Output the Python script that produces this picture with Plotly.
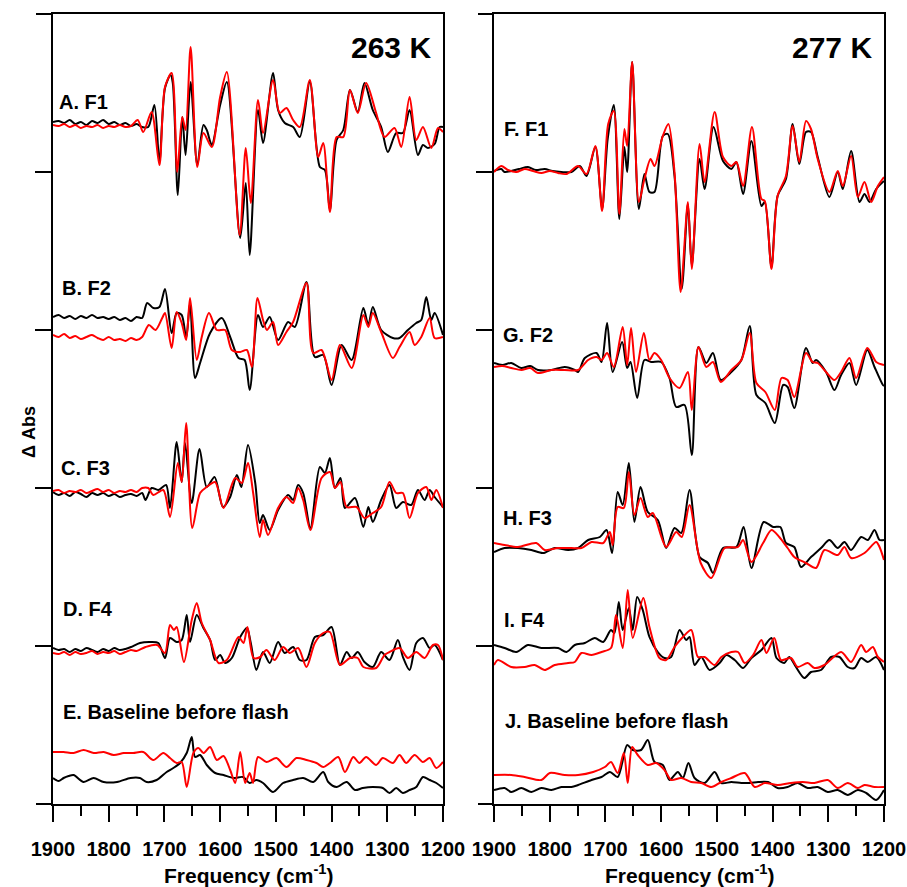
import plotly.graph_objects as go

# ---------------- data (frequency in cm-1, dAbs in arbitrary units relative to each trace's zero tick) ----------------
# 263 K panel
A_black_cm = [1900,1890,1880,1870,1860,1850,1840,1830,1820,1810,1800,1790,1780,1770,1760,1750,1740,1729,1718,1709,1699,1689,1685,1676,1668,1662,1653,1641,1630,1624,1615,1600,1588,1564,1554,1547,1532,1523,1505,1496,1484,1469,1457,1439,1421,1412,1403,1391,1379,1367,1353,1341,1326,1311,1299,1284,1272,1260,1245,1236,1227,1215,1206,1200]
A_black_dA = [50,51,49,52,48,50,47,51,49,52,48,50,47,49,46,48,45,45,67,10,84,97,89,-23,55,17,90,7,47,42,27,67,90,-66,-11,-83,62,29,99,62,49,45,35,90,5,2,-38,32,42,82,60,89,62,45,20,39,39,62,17,27,24,28,45,45]
A_red_cm = [1900,1890,1880,1870,1860,1850,1840,1830,1820,1810,1800,1790,1780,1770,1760,1748,1738,1723,1709,1699,1687,1677,1668,1662,1653,1641,1630,1615,1600,1588,1565,1554,1545,1532,1523,1505,1493,1481,1469,1457,1439,1424,1415,1403,1391,1379,1367,1353,1338,1320,1305,1287,1275,1260,1248,1236,1221,1209,1200]
A_red_dA = [47,46,48,45,47,44,46,45,47,44,46,45,47,45,46,52,40,60,7,85,99,0,55,42,125,5,39,25,75,100,-63,24,-31,72,39,92,59,64,52,45,92,15,29,-40,35,35,82,59,89,59,35,44,25,75,32,45,24,44,40]

B_black_cm = [1900,1890,1880,1870,1860,1850,1840,1830,1820,1810,1800,1790,1780,1770,1760,1750,1740,1731,1720,1709,1699,1687,1678,1669,1661,1654,1645,1636,1618,1597,1582,1567,1556,1547,1532,1523,1511,1496,1478,1466,1445,1430,1415,1400,1382,1364,1343,1334,1326,1311,1290,1278,1263,1248,1239,1230,1221,1215,1200]
B_black_dA = [13,15,12,14,11,14,12,15,12,13,11,13,10,12,9,13,12,27,22,23,41,-3,17,15,-8,27,-48,-33,-3,12,-7,-28,-30,-60,15,3,13,-10,8,3,48,-27,-25,-55,-15,-30,22,5,23,0,-8,-8,0,7,10,33,10,17,-5]
B_red_cm = [1900,1890,1880,1870,1860,1850,1840,1830,1820,1810,1800,1790,1780,1770,1760,1750,1740,1728,1716,1704,1699,1687,1678,1669,1661,1654,1642,1633,1620,1606,1591,1579,1564,1552,1543,1533,1523,1516,1505,1496,1481,1469,1445,1433,1418,1400,1385,1364,1343,1334,1326,1311,1290,1278,1260,1251,1239,1224,1215,1200]
B_red_dA = [-5,-7,-4,-8,-6,-9,-7,-5,-8,-10,-7,-10,-9,-11,-8,-10,-7,5,0,12,17,-18,18,7,-10,32,-30,-7,17,0,0,-20,-22,-20,-37,32,10,0,8,-15,-2,8,47,-23,-20,-50,-15,-38,15,3,17,-2,-28,-17,-2,-15,-7,12,-8,-7]

C_black_cm = [1900,1890,1880,1870,1860,1850,1840,1830,1820,1810,1800,1790,1780,1770,1760,1750,1740,1734,1723,1711,1697,1690,1678,1669,1663,1651,1637,1624,1610,1595,1582,1570,1562,1550,1537,1529,1523,1511,1496,1478,1469,1460,1451,1438,1421,1412,1403,1394,1384,1376,1358,1343,1334,1326,1311,1296,1284,1272,1257,1245,1233,1224,1215,1200]
C_black_dA = [-4,-7,-5,-8,-4,-6,-9,-5,-7,-5,-8,-6,-9,-7,-6,-8,-5,-12,0,-2,3,-20,46,6,45,-15,39,1,11,-19,-9,13,1,43,5,-35,-27,-42,-22,-7,-12,3,-5,-40,21,15,30,0,10,-20,-10,-39,-19,-34,-12,3,-20,-14,-17,-2,-12,-2,-9,-19]
C_red_cm = [1900,1890,1880,1870,1860,1850,1840,1830,1820,1810,1800,1790,1780,1770,1760,1750,1740,1729,1720,1702,1690,1676,1669,1661,1650,1636,1624,1609,1594,1573,1561,1550,1541,1529,1523,1514,1496,1481,1469,1460,1451,1438,1418,1403,1394,1384,1373,1355,1341,1326,1311,1296,1284,1272,1260,1245,1230,1221,1212,1200]
C_red_dA = [-3,-2,-5,-3,-4,-2,-5,-3,-1,-4,-2,-5,-3,-4,-2,-4,0,0,-7,-2,-29,25,6,65,-40,-5,1,6,-20,10,5,25,-4,-49,-32,-47,-20,-9,-15,0,-12,-42,10,16,0,6,-19,-19,-30,-25,-19,6,-5,-5,-30,-5,1,-12,-2,-20]

D_black_cm = [1900,1890,1880,1870,1860,1850,1840,1830,1820,1810,1800,1790,1780,1770,1760,1744,1726,1711,1699,1690,1678,1669,1660,1654,1642,1630,1618,1609,1600,1591,1579,1564,1552,1545,1535,1523,1511,1496,1484,1469,1457,1445,1430,1415,1400,1385,1373,1364,1353,1341,1326,1311,1296,1281,1272,1260,1248,1236,1224,1215,1200]
D_black_dA = [-2,-4,-3,-6,-3,-5,-2,-4,-6,-3,-5,-2,-4,-3,-1,3,4,3,-12,8,4,6,31,4,31,18,6,-14,-9,-17,-12,9,18,3,-24,-6,-17,4,-7,-1,-14,-14,9,11,19,-19,-6,-12,-6,-16,-21,-6,-14,6,-11,-24,3,8,-2,1,-14]
D_red_cm = [1900,1890,1880,1870,1860,1850,1840,1830,1820,1810,1800,1790,1780,1770,1760,1750,1734,1713,1699,1690,1683,1678,1665,1651,1642,1633,1618,1603,1588,1567,1558,1551,1540,1528,1517,1502,1487,1475,1460,1445,1430,1415,1403,1385,1367,1353,1343,1320,1305,1296,1278,1263,1248,1233,1218,1209,1200]
D_red_dA = [-7,-8,-6,-9,-6,-8,-7,-5,-8,-6,-7,-5,-8,-6,-4,-5,-1,1,-7,21,16,19,-16,26,43,23,6,-17,-14,9,3,19,-12,-11,-4,-14,-1,-7,-2,-21,3,13,14,-19,-12,-12,-21,-22,-9,-6,-2,-12,-6,-12,1,1,-14]

E_black_cm = [1900,1890,1881,1872,1863,1845,1827,1809,1785,1761,1744,1732,1714,1696,1684,1672,1660,1651,1645,1636,1624,1609,1594,1576,1559,1547,1535,1523,1505,1487,1469,1451,1433,1415,1406,1391,1373,1358,1344,1326,1308,1296,1284,1272,1260,1248,1236,1224,1212,1200]
E_black_dA = [26,23,26,28,29,22,26,22,22,26,26,22,24,32,36,41,51,67,47,49,39,31,29,26,27,21,24,21,12,21,24,26,22,32,22,17,22,14,16,17,16,11,16,11,14,17,27,24,21,16]
E_red_cm = [1900,1881,1863,1845,1827,1809,1791,1773,1756,1738,1720,1702,1690,1678,1669,1660,1648,1639,1630,1618,1606,1594,1582,1573,1564,1555,1547,1541,1532,1517,1499,1481,1463,1445,1427,1415,1403,1388,1376,1361,1350,1338,1320,1308,1290,1278,1266,1251,1236,1224,1212,1200]
E_red_dA = [52,52,51,54,51,52,49,51,51,52,44,51,46,41,42,17,51,56,51,57,44,48,34,21,52,21,31,21,47,42,46,37,46,44,41,37,41,47,32,47,41,47,39,46,41,49,41,49,42,46,36,42]

# 277 K panel
F_black_cm = [1900,1887,1881,1869,1855,1839,1825,1809,1795,1779,1761,1746,1734,1718,1706,1696,1685,1675,1666,1661,1652,1640,1630,1621,1612,1597,1588,1576,1563,1552,1545,1531,1522,1506,1489,1474,1465,1453,1438,1420,1414,1402,1391,1376,1364,1352,1340,1331,1319,1298,1283,1274,1259,1244,1235,1226,1214,1200]
F_black_dA = [1,3,0,1,3,5,2,3,1,0,0,6,-4,25,-37,33,67,-47,25,0,110,-37,-2,-20,-20,36,38,-4,-117,-32,-94,13,-17,45,11,3,10,-22,31,-34,-30,-95,-24,-7,48,8,40,40,15,-25,0,-17,21,-30,-22,-30,-17,-9]
F_red_cm = [1900,1887,1875,1860,1845,1830,1815,1800,1785,1770,1749,1734,1718,1706,1695,1685,1675,1666,1661,1652,1640,1630,1619,1612,1597,1587,1576,1565,1552,1545,1531,1522,1504,1489,1474,1465,1453,1437,1420,1414,1402,1391,1376,1364,1352,1340,1331,1319,1298,1283,1274,1259,1247,1235,1223,1211,1200]
F_red_dA = [0,6,2,0,3,1,-1,1,-1,-2,6,-2,26,-39,48,61,-42,43,26,110,-30,-7,13,6,36,48,0,-120,-30,-97,28,-10,60,15,6,10,-14,45,-27,-29,-97,-24,-4,46,10,51,43,13,-20,1,-14,16,-25,-10,-30,-14,-5]

G_black_cm = [1900,1885,1869,1851,1835,1821,1797,1773,1755,1749,1737,1716,1707,1697,1687,1670,1661,1655,1643,1630,1618,1600,1585,1573,1558,1545,1533,1519,1507,1493,1474,1456,1441,1429,1413,1396,1381,1373,1361,1340,1328,1322,1304,1289,1277,1262,1250,1230,1217,1202,1200]
G_black_dA = [-33,-35,-33,-38,-36,-40,-40,-37,-40,-42,-28,-23,-32,7,-42,-12,-38,-32,-68,-30,-32,-32,-48,-77,-75,-125,-17,-33,-23,-50,-42,-30,4,-65,-73,-93,-55,-57,-78,-18,-33,-30,-42,-60,-45,-33,-55,-20,-37,-55,-56]
G_red_cm = [1900,1885,1869,1851,1835,1821,1797,1773,1749,1731,1716,1707,1697,1685,1669,1661,1654,1645,1631,1621,1612,1600,1585,1567,1552,1545,1533,1519,1507,1493,1474,1456,1441,1429,1413,1396,1384,1373,1361,1340,1328,1319,1304,1289,1277,1262,1250,1230,1214,1200]
G_red_dA = [-37,-36,-38,-40,-38,-43,-40,-40,-40,-30,-27,-30,-23,-37,3,-35,2,-42,-3,-30,-23,-30,-48,-58,-42,-80,-17,-37,-32,-52,-40,-30,-3,-53,-62,-80,-48,-50,-67,-23,-32,-33,-42,-50,-42,-28,-48,-18,-32,-35]

H_black_cm = [1900,1881,1857,1833,1812,1791,1767,1749,1731,1710,1698,1688,1678,1669,1658,1648,1637,1624,1606,1591,1576,1564,1549,1531,1516,1507,1489,1465,1452,1438,1416,1399,1386,1376,1361,1349,1331,1313,1298,1283,1271,1259,1241,1229,1217,1208,1200]
H_black_dA = [-64,-60,-60,-62,-65,-60,-62,-60,-52,-49,-42,-65,-4,-17,25,-34,1,-24,-32,-60,-40,-45,-2,-69,-75,-85,-60,-59,-39,-80,-34,-39,-39,-55,-59,-79,-69,-60,-52,-60,-54,-62,-49,-52,-42,-52,-52]
H_red_cm = [1900,1881,1857,1824,1809,1785,1761,1743,1725,1704,1692,1687,1678,1667,1658,1648,1637,1624,1615,1591,1573,1563,1549,1529,1510,1486,1462,1453,1438,1417,1402,1388,1373,1361,1340,1322,1307,1283,1271,1259,1235,1214,1208,1200]
H_red_dA = [-55,-57,-59,-55,-62,-60,-60,-60,-54,-55,-44,-57,-19,-20,16,-27,-10,-29,-25,-59,-44,-49,-17,-75,-90,-60,-59,-52,-74,-55,-42,-49,-60,-69,-75,-80,-62,-67,-59,-70,-65,-54,-59,-72]

I_black_cm = [1900,1881,1860,1839,1815,1785,1770,1755,1737,1719,1704,1690,1684,1676,1669,1658,1651,1643,1633,1621,1606,1594,1582,1567,1555,1549,1540,1528,1513,1495,1483,1468,1453,1438,1420,1402,1393,1379,1370,1358,1343,1331,1313,1295,1280,1265,1253,1241,1229,1214,1200]
I_black_dA = [1,-2,-6,1,-2,-2,-6,1,3,8,4,16,13,44,16,38,16,49,36,9,-6,-12,-11,16,6,9,-19,-11,-24,-17,-9,-14,-22,-12,-4,8,-12,-17,-11,-21,-32,-26,-24,-11,-11,-21,-22,-12,-16,-11,-24]
I_red_cm = [1900,1893,1869,1845,1827,1809,1791,1767,1755,1743,1725,1707,1690,1681,1669,1660,1651,1632,1621,1603,1591,1576,1561,1546,1534,1522,1504,1492,1474,1462,1450,1435,1420,1411,1397,1385,1367,1355,1337,1325,1307,1277,1259,1241,1232,1220,1211,1200]
I_red_dA = [-19,-14,-21,-21,-19,-24,-19,-17,-16,-7,-9,-6,-2,31,-2,56,8,48,19,-12,-14,-1,9,16,-11,-11,-19,-11,-6,-6,-17,-9,6,-7,8,-14,-12,-21,-17,-22,-19,-6,-16,1,-6,-1,-11,-16]

J_black_cm = [1900,1881,1869,1851,1833,1815,1797,1779,1761,1749,1725,1707,1692,1678,1661,1651,1636,1624,1612,1597,1585,1570,1561,1551,1540,1522,1504,1492,1474,1456,1441,1426,1408,1391,1373,1355,1337,1319,1301,1283,1265,1247,1232,1214,1200]
J_black_dA = [14,16,12,16,12,16,14,17,17,19,24,27,32,27,59,54,54,64,42,39,24,32,26,41,26,21,32,21,22,21,21,22,22,16,17,21,16,17,12,14,9,14,11,4,14]
J_red_cm = [1900,1869,1845,1815,1800,1773,1749,1722,1701,1690,1678,1667,1660,1652,1642,1624,1609,1594,1582,1564,1546,1528,1510,1492,1474,1450,1432,1414,1391,1367,1346,1325,1301,1283,1265,1247,1235,1217,1200]
J_red_dA = [29,29,27,24,31,29,29,32,37,42,31,51,21,57,49,39,41,34,24,26,22,21,17,22,26,31,17,21,19,21,22,21,24,16,21,16,19,17,17]

x_ticks = [1900, 1800, 1700, 1600, 1500, 1400, 1300, 1200]
labels_263 = ["A. F1", "B. F2", "C. F3", "D. F4", "E. Baseline before flash"]
labels_277 = ["F. F1", "G. F2", "H. F3", "I. F4", "J. Baseline before flash"]

# ---------------- layout parameters ----------------
OFFSETS = [632, 474, 316, 158, 0]
panels = [
    ("x", "y", [(A_black_cm, A_black_dA, A_red_cm, A_red_dA), (B_black_cm, B_black_dA, B_red_cm, B_red_dA),
                (C_black_cm, C_black_dA, C_red_cm, C_red_dA), (D_black_cm, D_black_dA, D_red_cm, D_red_dA),
                (E_black_cm, E_black_dA, E_red_cm, E_red_dA)]),
    ("x2", "y2", [(F_black_cm, F_black_dA, F_red_cm, F_red_dA), (G_black_cm, G_black_dA, G_red_cm, G_red_dA),
                  (H_black_cm, H_black_dA, H_red_cm, H_red_dA), (I_black_cm, I_black_dA, I_red_cm, I_red_dA),
                  (J_black_cm, J_black_dA, J_red_cm, J_red_dA)]),
]

fig = go.Figure()
for xa, ya, traces in panels:
    for off, (kf, kv, rf, rv) in zip(OFFSETS, traces):
        fig.add_trace(go.Scatter(x=kf, y=[v + off for v in kv], xaxis=xa, yaxis=ya, mode="lines",
                                 line=dict(color="#000000", width=2, shape="spline", smoothing=0.8),
                                 showlegend=False, hoverinfo="skip"))
        fig.add_trace(go.Scatter(x=rf, y=[v + off for v in rv], xaxis=xa, yaxis=ya, mode="lines",
                                 line=dict(color="#ff0000", width=2, shape="spline", smoothing=0.8),
                                 showlegend=False, hoverinfo="skip"))

FONT = "Liberation Sans, Arial, sans-serif"
W, H = 907, 887
ML, MR, MT, MB = 53, 23, 14, 83
PW, PH = W - ML - MR, H - MT - MB


def px(xp):
    return (xp - ML) / PW


def py(yp):
    return (H - MB - yp) / PH


xcommon = dict(range=[1900, 1200], tickvals=x_ticks, ticks="outside", ticklen=16, tickwidth=2,
               tickcolor="black", showline=True, linewidth=2, linecolor="black", mirror=True,
               showgrid=False, zeroline=False, automargin=False, ticklabelstandoff=10,
               tickfont=dict(family=FONT, size=20, color="black", weight="bold"),
               minor=dict(dtick=50, tick0=1900, ticks="outside", ticklen=10, tickwidth=2, tickcolor="black",
                          showgrid=False))
ycommon = dict(range=[0, 790], tickvals=OFFSETS[:4], ticks="outside", ticklen=16, tickwidth=2,
               tickcolor="black", showticklabels=False, showline=True, linewidth=2, linecolor="black",
               mirror=True, showgrid=False, zeroline=False, automargin=False)

fig.update_layout(
    width=W, height=H, autosize=False, margin=dict(l=ML, r=MR, t=MT, b=MB, autoexpand=False),
    paper_bgcolor="white", plot_bgcolor="white",
    xaxis=dict(domain=[0, px(443)], anchor="y", **xcommon),
    xaxis2=dict(domain=[px(494), 1], anchor="y2", **xcommon),
    yaxis=dict(domain=[0, 1], anchor="x", **ycommon),
    yaxis2=dict(domain=[0, 1], anchor="x2", **ycommon),
)

shapes = []
for x0, x1 in [(36, 53), (478, 494)]:
    for yy in (14, 804):
        shapes.append(dict(type="line", xref="paper", yref="paper", x0=px(x0), x1=px(x1), y0=py(yy), y1=py(yy),
                           line=dict(color="black", width=2)))
fig.update_layout(shapes=shapes)

ann = []
lab_pos_263 = [(57, 102), (60, 288), (59, 468), (61, 609), (61, 712)]
lab_pos_277 = [(502, 129), (501, 335), (501, 518), (502, 620), (503, 721)]
for txt, (xx, yy) in list(zip(labels_263, lab_pos_263)) + list(zip(labels_277, lab_pos_277)):
    ann.append(dict(text=txt, xref="paper", yref="paper", x=px(xx), y=py(yy), xanchor="left", yanchor="middle",
                    showarrow=False, font=dict(family=FONT, size=20, color="black", weight="bold")))
for txt, xx in [("263 K", 433), ("277 K", 874)]:
    ann.append(dict(text=txt, xref="paper", yref="paper", x=px(xx), y=py(47), xanchor="right", yanchor="middle",
                    showarrow=False, font=dict(family=FONT, size=30, color="black", weight="bold")))
for xx in (248, 689):
    ann.append(dict(text="Frequency (cm<sup>-1</sup>)", xref="paper", yref="paper", x=px(xx), y=py(874),
                    xanchor="center", yanchor="middle", showarrow=False,
                    font=dict(family=FONT, size=21, color="black", weight="bold")))
ann.append(dict(text="\u0394 Abs", xref="paper", yref="paper", x=px(29), y=py(432), textangle=-90,
                xanchor="center", yanchor="middle", showarrow=False,
                font=dict(family=FONT, size=18, color="black", weight="bold")))
fig.update_layout(annotations=ann)

fig.write_html("out.html", config={"responsive": False, "displayModeBar": False},
               post_script="document.body.style.margin='0px';document.body.style.overflow='hidden';"
                           "document.documentElement.style.overflow='hidden';")
